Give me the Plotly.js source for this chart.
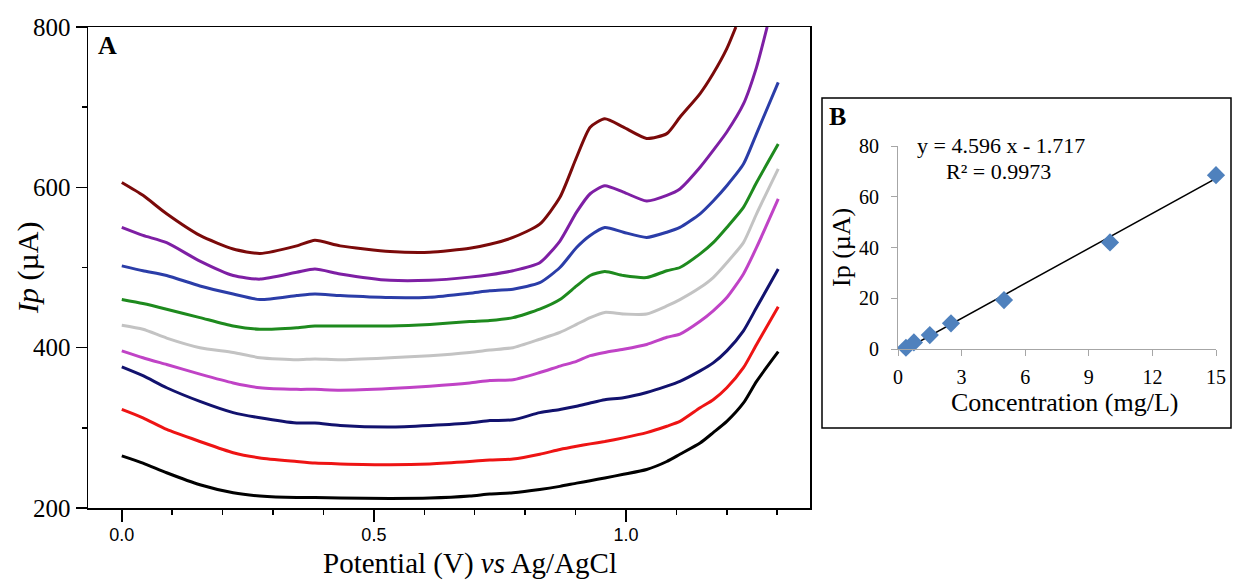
<!DOCTYPE html>
<html>
<head>
<meta charset="utf-8">
<script src="https://cdn.plot.ly/plotly-3.0.1.min.js"></script>
<style>html,body{margin:0;padding:0;background:#fff;}#chart{width:1234px;height:581px;}</style>
</head>
<body>
<div id="chart"></div>
<script>
// ---- Panel A: DPV curves (potential in V, current in µA) ----
const potential = [0, 0.042, 0.089, 0.155, 0.221, 0.274, 0.347, 0.383, 0.433, 0.532, 0.611, 0.690, 0.730, 0.776, 0.829, 0.869, 0.902, 0.929, 0.958, 0.995, 1.041, 1.081, 1.107, 1.147, 1.173, 1.200, 1.233, 1.259, 1.302];
const potentialMaroon = [0, 0.042, 0.089, 0.155, 0.221, 0.274, 0.347, 0.383, 0.433, 0.532, 0.611, 0.690, 0.730, 0.776, 0.829, 0.869, 0.902, 0.929, 0.958, 0.995, 1.041, 1.081, 1.107, 1.147, 1.173, 1.200, 1.218];
const potentialPurple = [0, 0.042, 0.089, 0.155, 0.221, 0.274, 0.347, 0.383, 0.433, 0.532, 0.611, 0.690, 0.730, 0.776, 0.829, 0.869, 0.902, 0.929, 0.958, 0.995, 1.041, 1.081, 1.107, 1.147, 1.173, 1.200, 1.233, 1.259, 1.280];

const curMaroon  = [606, 590, 567, 540, 523, 517.5, 527, 534, 527, 520, 519, 524, 529, 537.5, 554, 587.5, 637.5, 675, 685.5, 675, 661, 667, 687.5, 717, 742, 773, 800];
const curPurple  = [550, 540, 531, 508, 490, 485.5, 494, 498, 492, 484, 484, 488, 491, 496, 506, 533, 569, 592, 602, 594, 583, 590, 598, 625, 646, 669, 704, 750, 800];
const curBlue    = [502, 496, 490, 477, 467, 460, 465, 467, 465, 462.5, 463, 468, 471, 473, 481, 500, 525, 540, 550, 544, 537.5, 544, 550, 567, 583, 602, 629, 667, 731];
const curGreen   = [460, 455, 448, 437.5, 427, 423, 425, 427, 427, 427, 429, 432.5, 434, 437.5, 448, 460, 477, 490, 495, 490, 487.5, 496, 500, 517, 531, 550, 575, 606, 654];
const curGray    = [428, 423, 412, 400, 394, 387.5, 385, 386, 385, 387.5, 390, 394, 397, 400, 410.5, 419, 429, 437.5, 444, 442, 442, 452, 460, 475, 487.5, 506, 531, 567, 623];
const curMagenta = [396, 387.5, 379, 367, 356, 350, 348, 348, 347, 349, 352, 356, 359, 360, 369, 377, 383, 390, 394, 398, 404, 413, 417, 433, 446, 462.5, 492, 525, 585.5];
const curNavy    = [376, 365, 350, 333, 319, 312.5, 306, 306, 303, 301, 303, 306, 309, 310, 319, 323, 327, 331, 335, 337.5, 344, 352, 358, 371, 381, 396, 421, 450, 498];
const curRed     = [323, 312.5, 298, 283, 269, 262.5, 258, 256, 255, 254, 255, 258, 260, 261, 267, 273, 277, 280, 283, 287.5, 294, 302, 308, 325, 335, 350, 375, 404, 451];
const curBlack   = [265, 256, 244, 229, 219, 215, 213, 213, 212.5, 212, 212.5, 215, 217.5, 219, 223, 227, 231, 234, 237.5, 242, 248, 258, 267, 281, 294, 308, 331, 358, 395];

// ---- Panel B: calibration ----
const concentration = [0.375, 0.75, 1.5, 2.5, 5, 10, 15];
const peakCurrent   = [0.5, 2.6, 5.5, 10.1, 19.3, 42.0, 68.5];
const fitSlope = 4.596;
const fitIntercept = -1.717;
const fitX = [concentration[0], concentration[concentration.length - 1]];
const fitY = fitX.map(c => fitSlope * c + fitIntercept);

const serif = 'Liberation Serif, Times New Roman, serif';

const seriesA = [
  {x: potentialMaroon, y: curMaroon,  color: '#7B0A0A'},
  {x: potentialPurple, y: curPurple,  color: '#7E1FA4'},
  {x: potential,       y: curBlue,    color: '#2B3DA8'},
  {x: potential,       y: curGreen,   color: '#1E8A1E'},
  {x: potential,       y: curGray,    color: '#C3C3C3'},
  {x: potential,       y: curMagenta, color: '#C043C6'},
  {x: potential,       y: curNavy,    color: '#12126E'},
  {x: potential,       y: curRed,     color: '#EE1414'},
  {x: potential,       y: curBlack,   color: '#000000'}
];

const data = seriesA.map(s => ({
  type: 'scatter', mode: 'lines', x: s.x, y: s.y, xaxis: 'x', yaxis: 'y',
  line: {color: s.color, width: 3, shape: 'spline', smoothing: 0.6},
  hoverinfo: 'skip'
}));

data.push({
  type: 'scatter', mode: 'lines', x: fitX, y: fitY, xaxis: 'x2', yaxis: 'y2',
  line: {color: '#000', width: 1.5}, hoverinfo: 'skip'
});
data.push({
  type: 'scatter', mode: 'markers', x: concentration, y: peakCurrent, xaxis: 'x2', yaxis: 'y2',
  marker: {symbol: 'diamond', size: 14, color: '#4F81BD'}, cliponaxis: false
});

const W = 1234, H = 581;
const px = v => v / W;
const py = v => 1 - v / H;

const layout = {
  width: W, height: H,
  margin: {l: 0, r: 0, t: 0, b: 0},
  paper_bgcolor: '#fff', plot_bgcolor: '#fff',
  showlegend: false,
  font: {family: serif, color: '#000'},
  xaxis: {
    domain: [px(88), px(810)], range: [-0.067, 1.365], anchor: 'y',
    showgrid: false, zeroline: false, showline: true, linecolor: '#000', linewidth: 1.5, mirror: true,
    ticks: 'outside', ticklen: 12, tickwidth: 1.5, tickcolor: '#000',
    tick0: 0, dtick: 0.5, tickformat: '.1f',
    tickfont: {family: 'Liberation Sans Narrow, Arial Narrow, Liberation Sans, Arial, sans-serif', size: 18, color: '#000'},
    ticklabelstandoff: -2,
    minor: {tick0: 0, dtick: 0.1, ticks: 'outside', ticklen: 5, tickwidth: 1.5, tickcolor: '#000', showgrid: false}
  },
  yaxis: {
    domain: [py(508), py(27)], range: [200, 800], anchor: 'x',
    showgrid: false, zeroline: false, showline: true, linecolor: '#000', linewidth: 1.5, mirror: true,
    ticks: 'outside', ticklen: 11, tickwidth: 1.5, tickcolor: '#000',
    tick0: 200, dtick: 200,
    tickfont: {family: serif, size: 25, color: '#000'},
    minor: {tick0: 200, dtick: 100, ticks: 'outside', ticklen: 5, tickwidth: 1.5, tickcolor: '#000', showgrid: false}
  },
  xaxis2: {
    domain: [px(898), px(1216)], range: [0, 15], anchor: 'y2',
    showgrid: false, zeroline: false, showline: true, linecolor: '#A6A6A6', linewidth: 1,
    ticks: 'outside', ticklen: 6, tickwidth: 1, tickcolor: '#A6A6A6',
    tick0: 0, dtick: 3,
    tickfont: {family: serif, size: 20, color: '#000'}, ticklabelstandoff: 4
  },
  yaxis2: {
    domain: [py(349), py(146)], range: [0, 80], anchor: 'x2',
    showgrid: false, zeroline: false, showline: true, linecolor: '#A6A6A6', linewidth: 1,
    ticks: 'outside', ticklen: 6, tickwidth: 1, tickcolor: '#A6A6A6',
    tick0: 0, dtick: 20,
    tickfont: {family: serif, size: 20, color: '#000'}, ticklabelstandoff: 8
  },
  shapes: [
    {type: 'rect', xref: 'paper', yref: 'paper', x0: px(822), x1: px(1231), y0: py(428), y1: py(98),
     line: {color: '#000', width: 1.5}, fillcolor: 'rgba(0,0,0,0)'}
  ],
  annotations: [
    {xref: 'paper', yref: 'paper', x: px(470), y: py(563), xanchor: 'center', yanchor: 'middle', showarrow: false,
     text: 'Potential (V) <i>vs</i> Ag/AgCl', font: {family: serif, size: 29, color: '#000'}},
    {xref: 'paper', yref: 'paper', x: px(28), y: py(268), xanchor: 'center', yanchor: 'middle', showarrow: false, textangle: -90,
     text: '<i>Ip</i> (µA)', font: {family: serif, size: 30, color: '#000'}},
    {xref: 'paper', yref: 'paper', x: px(107), y: py(45), xanchor: 'center', yanchor: 'middle', showarrow: false,
     text: '<b>A</b>', font: {family: serif, size: 26, color: '#000'}},
    {xref: 'paper', yref: 'paper', x: px(837), y: py(117), xanchor: 'center', yanchor: 'middle', showarrow: false,
     text: '<b>B</b>', font: {family: serif, size: 26, color: '#000'}},
    {xref: 'paper', yref: 'paper', x: px(1001), y: py(145), xanchor: 'center', yanchor: 'middle', showarrow: false,
     text: 'y = 4.596 x - 1.717', font: {family: serif, size: 22, color: '#000'}},
    {xref: 'paper', yref: 'paper', x: px(999), y: py(172), xanchor: 'center', yanchor: 'middle', showarrow: false,
     text: 'R² = 0.9973', font: {family: serif, size: 22, color: '#000'}},
    {xref: 'paper', yref: 'paper', x: px(1064), y: py(402), xanchor: 'center', yanchor: 'middle', showarrow: false,
     text: 'Concentration (mg/L)', font: {family: serif, size: 26, color: '#000'}},
    {xref: 'paper', yref: 'paper', x: px(842), y: py(248), xanchor: 'center', yanchor: 'middle', showarrow: false, textangle: -90,
     text: 'Ip (µA)', font: {family: serif, size: 26, color: '#000'}}
  ]
};

Plotly.newPlot('chart', data, layout, {staticPlot: true, displayModeBar: false});
</script>
</body>
</html>
